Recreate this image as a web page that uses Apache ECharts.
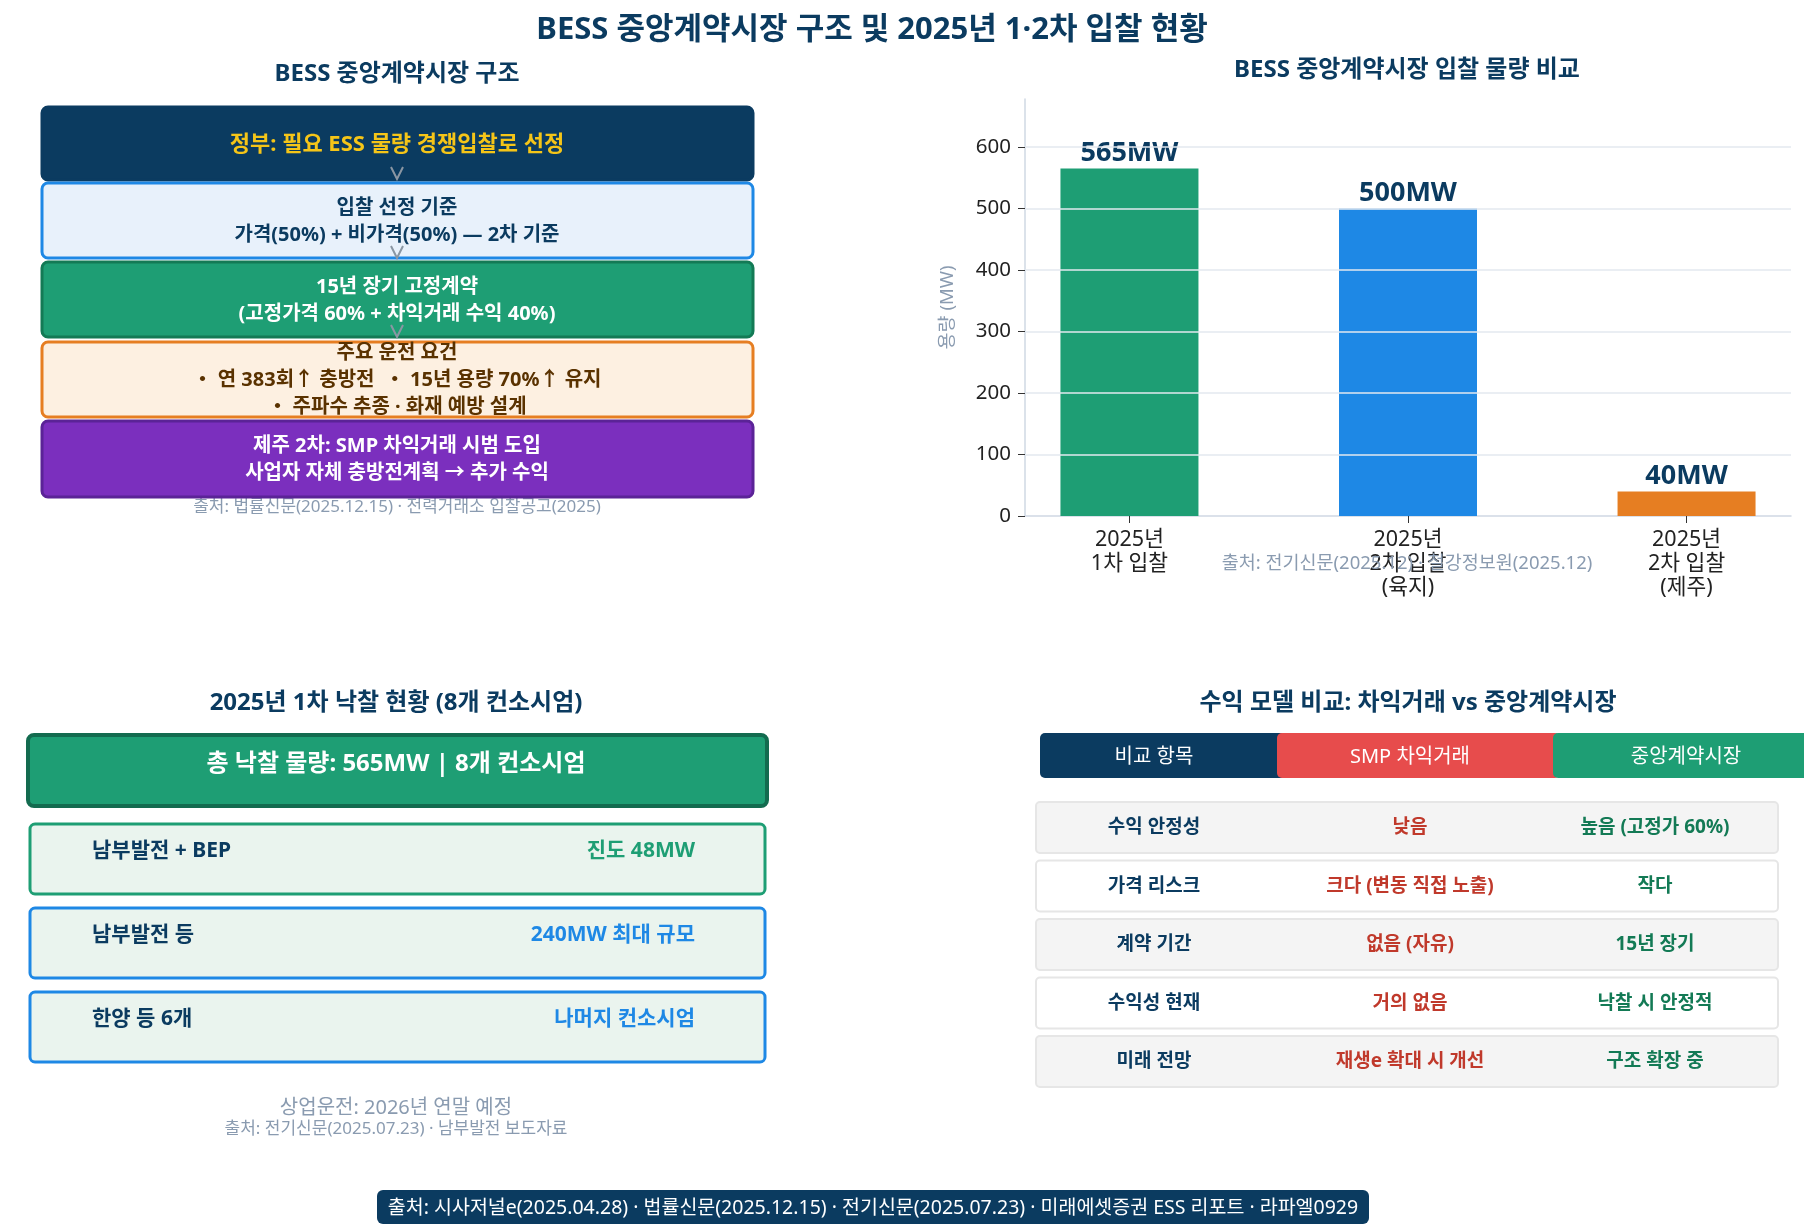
<!DOCTYPE html>
<html lang="ko">
<head>
<meta charset="UTF-8">
<title>BESS 중앙계약시장</title>
<style>
  html, body { margin: 0; padding: 0; background: #fff; }
  #main { width: 1804px; height: 1232px; }
</style>
</head>
<body>
<div id="main"></div>
<script src="https://cdn.jsdelivr.net/npm/echarts@6/dist/echarts.min.js"></script>
<script>
// ---- data ----
var categories = ['2025년\n1차 입찰', '2025년\n2차 입찰\n(육지)', '2025년\n2차 입찰\n(제주)'];
var volumes = [565, 500, 40];
var barColors = ['#1e9e74', '#1e88e5', '#e67e22'];
var yTicks = [0, 100, 200, 300, 400, 500, 600];

var structureSteps = [
  ['정부: 필요 ESS 물량 경쟁입찰로 선정'],
  ['입찰 선정 기준', '가격(50%) + 비가격(50%) — 2차 기준'],
  ['15년 장기 고정계약', '(고정가격 60% + 차익거래 수익 40%)'],
  ['주요 운전 요건', '・ 연 383회↑ 충방전  ・ 15년 용량 70%↑ 유지', '・ 주파수 추종 · 화재 예방 설계'],
  ['제주 2차: SMP 차익거래 시범 도입', '사업자 자체 충방전계획 → 추가 수익']
];
var winners = ['남부발전 + BEP', '남부발전 등', '한양 등 6개'];
var winnerNotes = ['진도 48MW', '240MW 최대 규모', '나머지 컨소시엄'];

var compareHeader = ['비교 항목', 'SMP 차익거래', '중앙계약시장'];
var compareItems = ['수익 안정성', '가격 리스크', '계약 기간', '수익성 현재', '미래 전망'];
var compareSmp = ['낮음', '크다 (변동 직접 노출)', '없음 (자유)', '거의 없음', '재생e 확대 시 개선'];
var compareCentral = ['높음 (고정가 60%)', '작다', '15년 장기', '낙찰 시 안정적', '구조 확장 중'];

// ---- style ----
var FONT = '"Noto Sans", "Noto Sans CJK KR", sans-serif';
var NAVY = '#0b3b60';
var GRAY = '#8a9bb0';

function box(x, y, w, h, fill, stroke, lw, r, z) {
  return { type: 'rect', z: z || 1, silent: true,
    shape: { x: x, y: y, width: w, height: h, r: r },
    style: { fill: fill, stroke: stroke, lineWidth: lw } };
}
function label(x, y, text, size, color, weight, align, z) {
  return { type: 'text', z: z || 3, silent: true, x: x, y: y,
    style: { text: text, fill: color, fontSize: size, fontWeight: weight || 'normal',
      fontFamily: FONT, align: align || 'center', verticalAlign: 'middle', lineHeight: 27 } };
}

var g = [];
g.push(label(872, 30, 'BESS 중앙계약시장 구조 및 2025년 1·2차 입찰 현황', 31, NAVY, 'bold'));

// top-left: structure
g.push(label(397, 74, 'BESS 중앙계약시장 구조', 24, NAVY, 'bold'));
var stepY = [107, 183, 262, 342, 421];
var stepH = [73, 75, 75, 75, 76];
var stepFill = [NAVY, '#e8f1fb', '#1e9e74', '#fdf0e1', '#7b2fbe'];
var stepStroke = [NAVY, '#1e88e5', '#137a55', '#e67e22', '#5b2397'];
var stepText = ['#f5c518', NAVY, '#ffffff', '#5a3200', '#ffffff'];
g.push(label(397, 507, '출처: 법률신문(2025.12.15) · 전력거래소 입찰공고(2025)', 17, GRAY, 'normal', 'center', 0));
for (var i = 0; i < structureSteps.length; i++) {
  g.push(box(42, stepY[i], 711, stepH[i], stepFill[i], stepStroke[i], 3, 6, 1 + i));
  g.push(label(397, stepY[i] + stepH[i] / 2 + 1, structureSteps[i].join('\n'),
    i === 0 ? 22 : 20, stepText[i], 'bold', 'center', 1 + i));
}
[167, 246, 325].forEach(function (ay) {
  g.push({ type: 'polyline', z: 20, silent: true,
    shape: { points: [[391, ay], [397, ay + 12], [403, ay]] },
    style: { stroke: '#8a96a3', lineWidth: 2, fill: null } });
});

// bottom-left: winners
g.push(label(396, 703, '2025년 1차 낙찰 현황 (8개 컨소시엄)', 24, NAVY, 'bold'));
g.push(box(28, 735, 739, 71, '#1e9e74', '#136b4f', 4, 6));
g.push(label(396, 764, '총 낙찰 물량: 565MW | 8개 컨소시엄', 24, '#ffffff', 'bold'));
var winY = [824, 908, 992];
var winColor = ['#1e9e74', '#1e88e5', '#1e88e5'];
for (var j = 0; j < winners.length; j++) {
  g.push(box(30, winY[j], 735, 70, '#eaf4ee', winColor[j], 3, 5));
  g.push(label(92, winY[j] + 27, winners[j], 21, NAVY, 'bold', 'left'));
  g.push(label(695, winY[j] + 27, winnerNotes[j], 21, winColor[j], 'bold', 'right'));
}
g.push(label(396, 1108, '상업운전: 2026년 연말 예정', 20, GRAY));
g.push(label(396, 1129, '출처: 전기신문(2025.07.23) · 남부발전 보도자료', 17, GRAY));

// bottom-right: comparison table
g.push(label(1408, 703, '수익 모델 비교: 차익거래 vs 중앙계약시장', 24, NAVY, 'bold'));
var headX = [1040, 1277, 1553];
var headW = [250, 283, 290];
var headCx = [1154, 1410, 1686];
var headFill = [NAVY, '#e74c4c', '#1e9e74'];
for (var h = 0; h < 3; h++) {
  g.push(box(headX[h], 733, headW[h], 45, headFill[h], headFill[h], 0, 5, 1 + h));
  g.push(label(headCx[h], 757, compareHeader[h], 20, '#ffffff', 'normal', 'center', 5));
}
for (var k = 0; k < compareItems.length; k++) {
  var ry = 802 + k * 58.5;
  g.push(box(1036, ry, 742, 51, k % 2 === 0 ? '#f4f4f4' : '#ffffff', '#e6e6e6', 2, 4));
  g.push(label(1154, ry + 26, compareItems[k], 19, NAVY, 'bold'));
  g.push(label(1410, ry + 26, compareSmp[k], 19, '#c0392b', 'bold'));
  g.push(label(1655, ry + 26, compareCentral[k], 19, '#137a55', 'bold'));
}

// footer
g.push(box(377, 1190, 992, 34, NAVY, NAVY, 0, 6));
g.push(label(873, 1208, '출처: 시사저널e(2025.04.28) · 법률신문(2025.12.15) · 전기신문(2025.07.23) · 미래에셋증권 ESS 리포트 · 라파엘0929', 19.5, '#ffffff'));

// top-right: bar chart
g.push(label(1407, 70, 'BESS 중앙계약시장 입찰 물량 비교', 24, NAVY, 'bold'));
g.push(label(1407, 564, '출처: 전기신문(2025.12) · 철강정보원(2025.12)', 18.5, GRAY, 'normal', 'center', 0));

var option = {
  animation: false,
  backgroundColor: '#ffffff',
  textStyle: { fontFamily: FONT },
  grid: { left: 1025, right: 13, top: 99, bottom: 716 },
  xAxis: {
    type: 'value', min: -0.375, max: 2.375,
    axisLine: { show: true, lineStyle: { color: '#cfd8e3', width: 1.5 } },
    axisTick: { show: true, customValues: [0, 1, 2], length: 7, lineStyle: { color: '#333' } },
    axisLabel: { customValues: [0, 1, 2], formatter: function (v) { return categories[Math.round(v)]; },
      fontSize: 21.5, color: '#222', lineHeight: 24, margin: 12, fontFamily: FONT },
    splitLine: { show: false }
  },
  yAxis: {
    type: 'value', min: 0, max: 678,
    name: '용량 (MW)', nameLocation: 'middle', nameGap: 68,
    nameTextStyle: { color: GRAY, fontSize: 18.5, fontFamily: FONT },
    axisLine: { show: true, onZero: false, lineStyle: { color: '#cfd8e3', width: 1.5 } },
    axisTick: { show: true, customValues: yTicks, length: 7, lineStyle: { color: '#333' } },
    axisLabel: { customValues: yTicks, fontSize: 20.5, color: '#222', margin: 14, fontFamily: FONT },
    splitLine: { show: false }
  },
  series: [{
    type: 'bar', barWidth: 138,
    data: volumes.map(function (v, i) { return { value: [i, v], itemStyle: { color: barColors[i] } }; }),
    label: { show: true, position: 'top', distance: 2, fontSize: 27, fontWeight: 'bold', color: NAVY,
      fontFamily: FONT, formatter: function (p) { return p.value[1] + 'MW'; } },
    markLine: {
      silent: true, symbol: 'none', animation: false,
      label: { show: false },
      lineStyle: { color: '#e3e8ef', width: 1.5, type: 'solid' },
      data: yTicks.filter(function (v) { return v > 0; }).map(function (v) { return { yAxis: v }; })
    }
  }],
  graphic: { elements: g }
};

var myChart = echarts.init(document.getElementById('main'));
myChart.setOption(option);
</script>
</body>
</html>
